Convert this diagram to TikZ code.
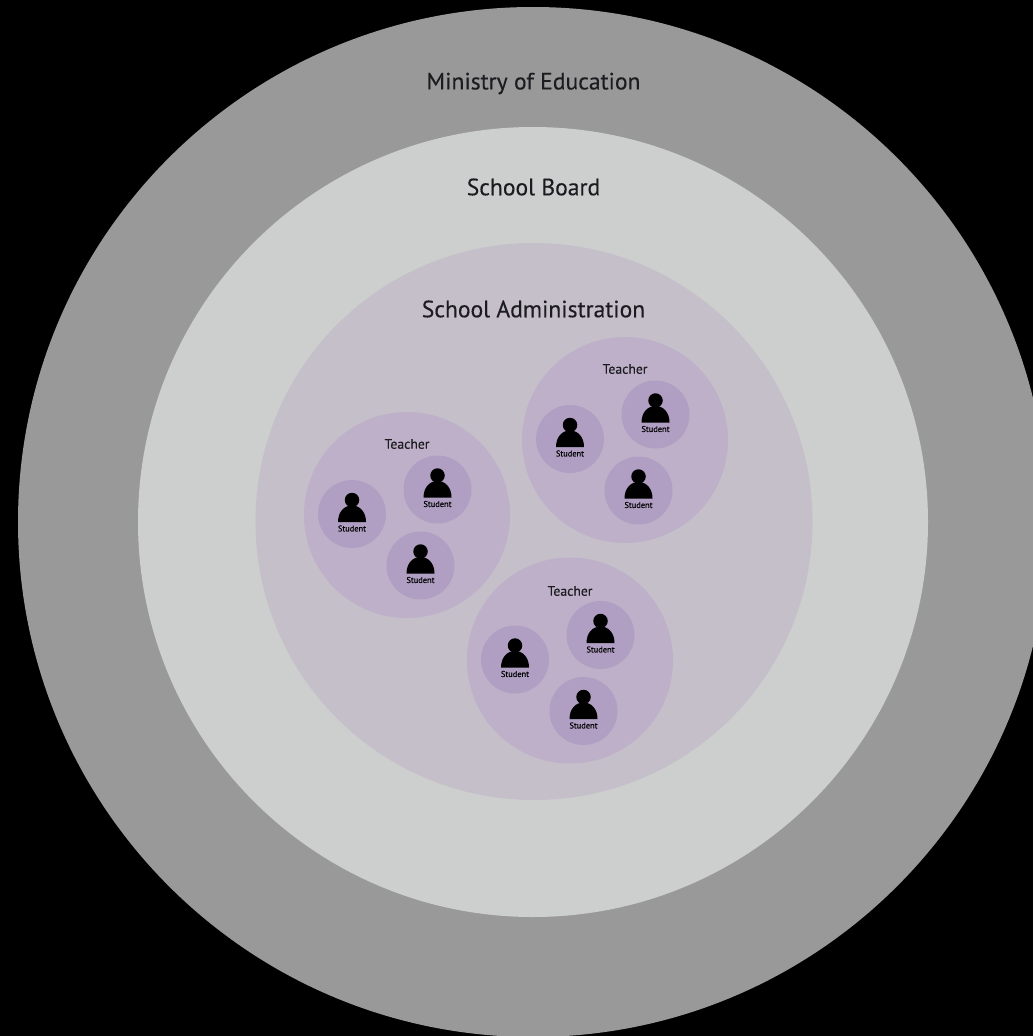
\documentclass[tikz,border=0pt]{standalone}
\usepackage{fontspec}
\setmainfont{PT Sans}
\newfontfamily\heavierfont[FakeBold=0.25]{PT Sans}
\definecolor{ministry}{HTML}{999999}
\definecolor{board}{HTML}{CDCECE}
\definecolor{admin}{HTML}{C5BFCA}
\definecolor{teacher}{HTML}{BEB0C8}
\definecolor{student}{HTML}{B19FC3}
\definecolor{ink}{HTML}{1C1C20}
\tikzset{
  x=1pt,y=-1pt,
  zone/.style={circle,inner sep=0pt,outer sep=0pt,minimum size=#1},
  biglabel/.style={text=ink,font=\heavierfont\fontsize{23.6}{27}\selectfont,inner sep=0pt},
  teacherlabel/.style={text=ink,font=\heavierfont\fontsize{13.7}{16}\selectfont,inner sep=0pt},
  studentlabel/.style={text=black,font=\heavierfont\fontsize{8.4}{10}\selectfont,inner sep=0pt},
  pics/learner/.style={code={
    \node[zone=68pt,fill=student] (-disc) at (0,0) {};
    \node[zone=14.5pt,fill=black] (-head) at (0,-14) {};
    \fill[black] (-14,8) -- (14,8) .. controls (14,-2) and (8,-8.5) .. (0,-8.5) .. controls (-8,-8.5) and (-14,-2) .. (-14,8) -- cycle;
    \node[studentlabel] (-label) at (0,14.5) {Student};
  }},
  pics/class/.style={code={
    \node[zone=206pt,fill=teacher] (-disc) at (0,0) {};
    \node[teacherlabel] (-label) at (0,#1) {Teacher};
    \pic (-a) at (-55,-1) {learner};
    \pic (-b) at (30.5,-25.5) {learner};
    \pic (-c) at (13.5,50.5) {learner};
  }}
}
\begin{document}
\begin{tikzpicture}
\fill[black] (0,0) rectangle (1033,1036);
\useasboundingbox (0,0) rectangle (1033,1036);
\clip (0,0) rectangle (1033,1036);
\node[zone=1030pt,fill=ministry] (ministry) at (533,522) {};
\node[zone=790pt,fill=board] (board) at (533,522) {};
\node[zone=557pt,fill=admin] (admin) at (534,521.5) {};
\node[biglabel] (ministrylabel) at (533.5,83.5) {Ministry of Education};
\node[biglabel] (boardlabel) at (533.5,187) {School Board};
\node[biglabel] (adminlabel) at (533.5,309) {School Administration};
\pic (left) at (407,515) {class=-71};
\pic (right) at (625,440) {class=-71};
\pic (bottom) at (570,660.5) {class=-69.5};
\end{tikzpicture}
\end{document}
